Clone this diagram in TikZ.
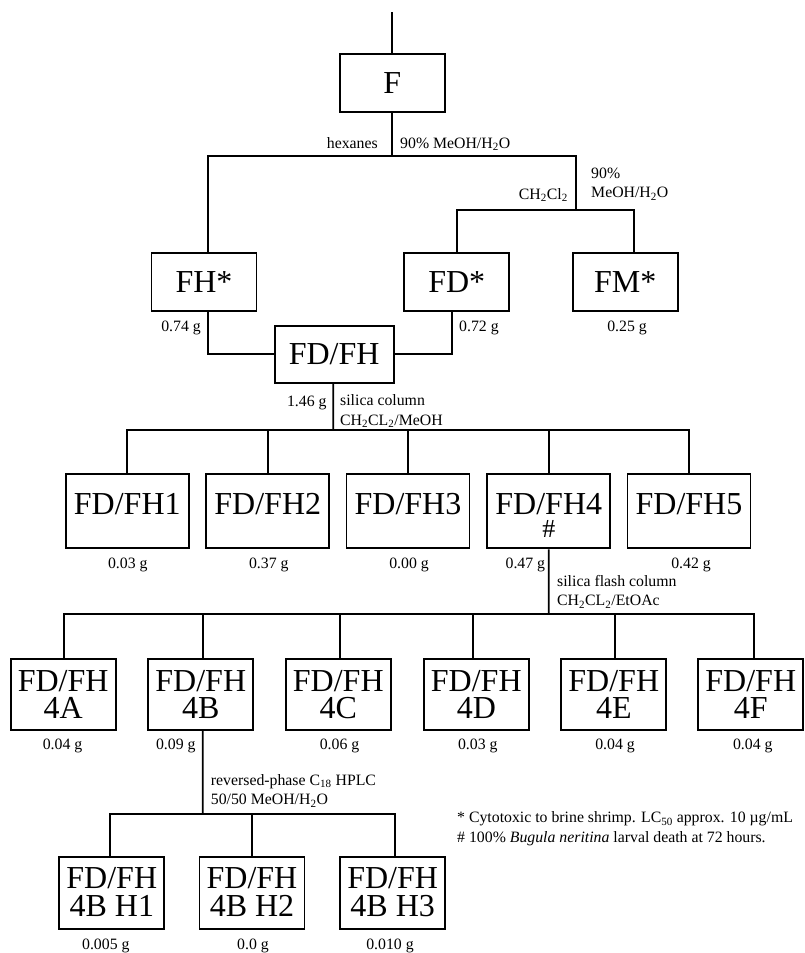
\documentclass[tikz,border=0pt]{standalone}
\usepackage{fontspec}
\setmainfont{Liberation Serif}
\newcommand{\two}[2]{\vtop{\halign{\hfil##\hfil\cr#1\cr#2\cr}}}
\newcommand{\twol}[2]{\vtop{\halign{##\hfil\cr#1\cr#2\cr}}}
\tikzset{frac/.style={draw, line width=1.9pt, inner sep=0pt,
		font=\fontsize{32}{27.7}\selectfont},
	link/.style={line width=1.7pt},
	note/.style={inner sep=0pt, font=\fontsize{15.8}{19.5}\selectfont}
}

\begin{document}
\begin{tikzpicture}[x=1pt,y=-1pt]
				\tikzstyle{crude} = [frac, minimum width=105pt, minimum height=57.5pt, text height=21pt, text depth=0pt]
				\tikzstyle{colfrac} = [frac, minimum width=123pt, minimum height=74.6pt, text height=27pt, text depth=21pt]
				\tikzstyle{flashfrac} = [frac, minimum width=105pt, minimum height=71pt, text height=24pt, text depth=30.4pt]
				\tikzstyle{hplcfrac} = [frac, minimum width=105pt, minimum height=72.3pt, text height=22pt, text depth=31.8pt]
				\useasboundingbox (0,0) rectangle (804,953);
				
				% partition of the crude extract
				\coordinate (in) at (392.3,12);
				\node[crude] (F) at (392.3,83) {F};
				\draw[link] (in) -- (F);
				\coordinate (s1) at (392.3,156);
				\coordinate (s2) at (576.3,210);
				\node[crude] (FH) at (204,282) {FH*};
				\node[crude] (FD) at (456.8,282) {FD*};
				\node[crude] (FM) at (625.2,282) {FM*};
				\draw[link] (F) -- (s1);
				\draw[link] ([xshift=4pt]FH.north) |- (s1) -| (s2);
				\draw[link] (FD.north) |- (s2) -| ([xshift=9pt]FM.north);
				\node[note, anchor=base east] (hex) at (378,148) {hexanes};
				\node[note, anchor=base west] (aq1) at (400,148) {90\% MeOH/H\textsubscript{2}O};
				\node[note, anchor=base east] (dcm) at (568,199) {CH\textsubscript{2}Cl\textsubscript{2}};
				\node[note, anchor=base west] (aq2) at (591,178.3) {\twol{90\%}{MeOH/H\textsubscript{2}O}};
				\node[note, anchor=base east] (mFH) at (201,331) {0.74 g};
				\node[note, anchor=base west] (mFD) at (459,331) {0.72 g};
				\node[note, anchor=base] (mFM) at (627,331) {0.25 g};
				
				% combined fraction
				\node[crude, minimum width=119pt, minimum height=56.7pt] (FDFH) at (334.2,354.3) {FD/FH};
				\draw[link] ([xshift=4pt]FH.south) |- (FDFH.west);
				\draw[link] ([xshift=-5pt]FD.south) |- (FDFH.east);
				\node[note, anchor=base east] (mFDFH) at (326.7,406) {1.46 g};
				\node[note, anchor=base west] (sil) at (340,405.5) {\twol{silica column}{CH\textsubscript{2}CL\textsubscript{2}/MeOH}};
				
				% silica column
				\coordinate (s3) at (333.3,430);
				\draw[link] ([xshift=-1pt]FDFH.south) -- (s3);
				\node[colfrac] (c1) at (127.3,511) {FD/FH1};
				\node[colfrac] (c2) at (267.8,511) {FD/FH2};
				\node[colfrac] (c3) at (408,511) {FD/FH3};
				\node[colfrac] (c4) at (548.8,511) {\baselineskip=23pt\two{FD/FH4}{\fontsize{26}{23}\selectfont\#}};
				\node[colfrac] (c5) at (689,511) {FD/FH5};
				\draw[link] (c1.north) |- (s3) -| (c5.north);
				\foreach \n in {2,3,4}
					\draw[link] (c\n.north) -- (c\n.north |- s3);
				\node[note, anchor=base] (m1) at (127.8,568) {0.03 g};
				\node[note, anchor=base] (m2) at (268.8,568) {0.37 g};
				\node[note, anchor=base] (m3) at (409,568) {0.00 g};
				\node[note, anchor=base east] (m4) at (545.3,568) {0.47 g};
				\node[note, anchor=base] (m5) at (691,568) {0.42 g};
				\node[note, anchor=base west] (flash) at (557,586.3) {\twol{silica flash column}{CH\textsubscript{2}CL\textsubscript{2}/EtOAc}};
				
				% flash column
				\coordinate (s4) at (548.7,613.7);
				\draw[link] (c4.south) -- (s4);
				\node[flashfrac] (f1) at (63.2,694.2) {\two{FD/FH}{4A}};
				\node[flashfrac] (f2) at (200.8,694.2) {\two{FD/FH}{4B}};
				\node[flashfrac] (f3) at (338.3,694.2) {\two{FD/FH}{4C}};
				\node[flashfrac] (f4) at (476.3,694.2) {\two{FD/FH}{4D}};
				\node[flashfrac] (f5) at (613.8,694.2) {\two{FD/FH}{4E}};
				\node[flashfrac] (f6) at (750.8,694.2) {\two{FD/FH}{4F}};
				\draw[link] ([xshift=1pt]f1.north) |- (s4) -| ([xshift=3pt]f6.north);
				\draw[link] ([xshift=2pt]f2.north) -- ([xshift=2pt]f2.north |- s4);
				\draw[link] ([xshift=2pt]f3.north) -- ([xshift=2pt]f3.north |- s4);
				\draw[link] ([xshift=-3pt]f4.north) -- ([xshift=-3pt]f4.north |- s4);
				\draw[link] ([xshift=1.5pt]f5.north) -- ([xshift=1.5pt]f5.north |- s4);
				\node[note, anchor=base] (n1) at (62.5,749.3) {0.04 g};
				\node[note, anchor=base east] (n2) at (195.7,749.3) {0.09 g};
				\node[note, anchor=base] (n3) at (339.5,749.3) {0.06 g};
				\node[note, anchor=base] (n4) at (477.8,749.3) {0.03 g};
				\node[note, anchor=base] (n5) at (615,749.3) {0.04 g};
				\node[note, anchor=base] (n6) at (752.8,749.3) {0.04 g};
				\node[note, anchor=base west] (rp) at (210.7,785.3) {\twol{reversed-phase C\textsubscript{18} HPLC}{50/50 MeOH/H\textsubscript{2}O}};
				
				% hplc
				\coordinate (s5) at (202.7,813.7);
				\draw[link] ([xshift=2pt]f2.south) -- (s5);
				\node[hplcfrac] (h1) at (111.8,893.2) {\baselineskip=28pt\two{FD/FH}{4B H1}};
				\node[hplcfrac] (h2) at (252,893.2) {\baselineskip=28pt\two{FD/FH}{4B H2}};
				\node[hplcfrac] (h3) at (392.7,893.2) {\baselineskip=28pt\two{FD/FH}{4B H3}};
				\draw[link] ([xshift=-2pt]h1.north) |- (s5) -| ([xshift=2.6pt]h3.north);
				\draw[link] (h2.north) -- (h2.north |- s5);
				\node[note, anchor=base] (k1) at (105.8,949.3) {0.005 g};
				\node[note, anchor=base] (k2) at (253,949.3) {0.0 g};
				\node[note, anchor=base] (k3) at (390,949.3) {0.010 g};
				
				% footnotes
				\node[note, anchor=base west] (key) at (457,822.7) {\baselineskip=20pt\twol{* Cytotoxic to brine shrimp. LC\textsubscript{50} approx. 10 µg/mL}{\# 100\% \textit{Bugula neritina} larval death at 72 hours.}};
				
\end{tikzpicture}
\end{document}
